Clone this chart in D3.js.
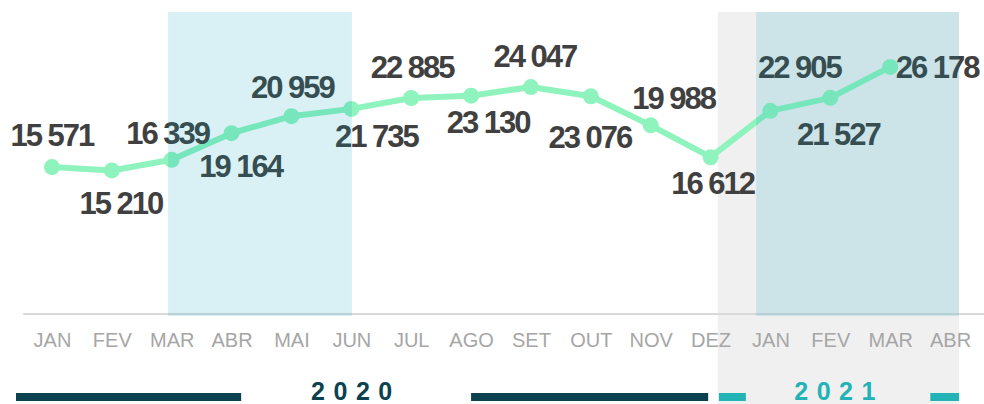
<!DOCTYPE html>
<html>
<head>
<meta charset="utf-8">
<script src="https://cdn.jsdelivr.net/npm/d3@7"></script>
<style>
  html, body { margin: 0; padding: 0; background: #fff; }
  #chart { width: 984px; height: 404px; }
  text { font-family: "Liberation Sans", Arial, sans-serif; }
</style>
</head>
<body>
<div id="chart"></div>
<script>
/* Chart data */
const months = ["JAN", "FEV", "MAR", "ABR", "MAI", "JUN", "JUL", "AGO", "SET", "OUT", "NOV", "DEZ", "JAN", "FEV", "MAR", "ABR"];
const values = [15571, 15210, 16339, 19164, 20959, 21735, 22885, 23130, 24047, 23076, 19988, 16612, 21527, 22905, 26178, null];
const years = ["2020", "2021"];

/* where each value label sits around its point (dx, dy in px) */
const labelOffsets = [
    [0, -32], [9, 32], [-4, -27], [9, 33], [1, -29], [25, 27], [1, -31], [17, 26],
    [4, -31], [-1, 41], [23, -28], [2, 26], [68, 23], [-31, -31], [47, 0], [0, 0]
];

window.addEventListener("DOMContentLoaded", main)

function main() {
    const W = 984, H = 404;
    const lineColor = "#8ef3bc";
    const darkTeal = "#0c4250";
    const lightTeal = "#22b3b6";

    const svg = d3.select("#chart").append("svg").attr("width", W).attr("height", H)

    const idx = d3.range(months.length);
    const x = d3.scalePoint().domain(idx).range([22, 980]).padding(0.5);
    // fractional month positions for the shaded bands and year bars
    const xi = d3.scaleLinear().domain([0, months.length - 1]).range([x(0), x(months.length - 1)]);
    const y = d3.scaleLinear().domain([0, 32000]).range([314, 12]);

    const fmt = d3.formatLocale({ decimal: ",", thousands: " ", grouping: [3], currency: ["", ""] }).format(",d");

    /* gray 2021 background */
    svg.append("rect")
        .attr("x", xi(11.12)).attr("y", 12)
        .attr("width", xi(15.15) - xi(11.12)).attr("height", H - 12)
        .attr("fill", "#f0f0f0");

    /* base line */
    svg.append("line")
        .attr("x1", xi(-0.48)).attr("x2", xi(15.57))
        .attr("y1", y(0)).attr("y2", y(0))
        .attr("stroke", "#d9d9d9").attr("stroke-width", 2);

    /* month ticks */
    const xAxis = d3.axisBottom(x).tickSize(0).tickFormat(i => months[i]);
    const gx = svg.append("g").attr("transform", "translate(0," + y(0) + ")").call(xAxis);
    gx.select(".domain").remove();
    gx.selectAll("text")
        .attr("y", 26).attr("dy", "0.36em")
        .attr("fill", "#a6a6a6")
        .style("font-size", "20px")
        .style("font-family", "'Liberation Sans', Arial, sans-serif");

    /* line + points */
    const pts = idx.filter(i => values[i] != null);
    const line = d3.line().x(i => x(i)).y(i => y(values[i]));
    svg.append("path")
        .datum(pts)
        .attr("d", line)
        .attr("fill", "none")
        .attr("stroke", lineColor)
        .attr("stroke-width", 6)
        .attr("stroke-linejoin", "round");

    svg.selectAll(".dot")
        .data(pts)
        .enter()
        .append("circle")
        .attr("class", "dot")
        .attr("cx", i => x(i))
        .attr("cy", i => y(values[i]))
        .attr("r", 8)
        .attr("fill", lineColor);

    /* value labels */
    svg.selectAll(".val")
        .data(pts)
        .enter()
        .append("text")
        .attr("class", "val")
        .attr("x", i => x(i) + labelOffsets[i][0])
        .attr("y", i => y(values[i]) + labelOffsets[i][1])
        .attr("dy", "0.36em")
        .attr("text-anchor", "middle")
        .attr("fill", "#404040")
        .style("font-size", "31px")
        .style("font-weight", "bold")
        .style("letter-spacing", "-2px")
        .text(i => fmt(values[i]));

    /* year bars */
    const yearBars = [
        { from: -0.60, to: 3.16, color: darkTeal },
        { from: 7.00, to: 10.96, color: darkTeal },
        { from: 11.14, to: 11.59, color: lightTeal },
        { from: 14.67, to: 15.15, color: lightTeal }
    ];
    svg.selectAll(".ybar")
        .data(yearBars)
        .enter()
        .append("rect")
        .attr("class", "ybar")
        .attr("x", d => xi(d.from))
        .attr("width", d => xi(d.to) - xi(d.from))
        .attr("y", 393).attr("height", 8)
        .attr("fill", d => d.color);

    svg.selectAll(".year")
        .data(years)
        .enter()
        .append("text")
        .attr("class", "year")
        .attr("x", (d, i) => xi(i == 0 ? 5.01 : 13.08) + 4)
        .attr("y", 391)
        .attr("dy", "0.36em")
        .attr("text-anchor", "middle")
        .attr("fill", (d, i) => i == 0 ? darkTeal : lightTeal)
        .style("font-size", "25px")
        .style("font-weight", "bold")
        .style("letter-spacing", "8.5px")
        .text(d => d);

    /* highlighted periods, drawn on top translucent */
    const bands = [[1.94, 5.01], [11.76, 15.15]];
    svg.selectAll(".band")
        .data(bands)
        .enter()
        .append("rect")
        .attr("class", "band")
        .attr("x", d => xi(d[0]))
        .attr("width", d => xi(d[1]) - xi(d[0]))
        .attr("y", 12).attr("height", y(0) - 12 + 2)
        .attr("fill", "rgb(0,160,190)")
        .attr("fill-opacity", 0.15);
}
</script>
</body>
</html>
